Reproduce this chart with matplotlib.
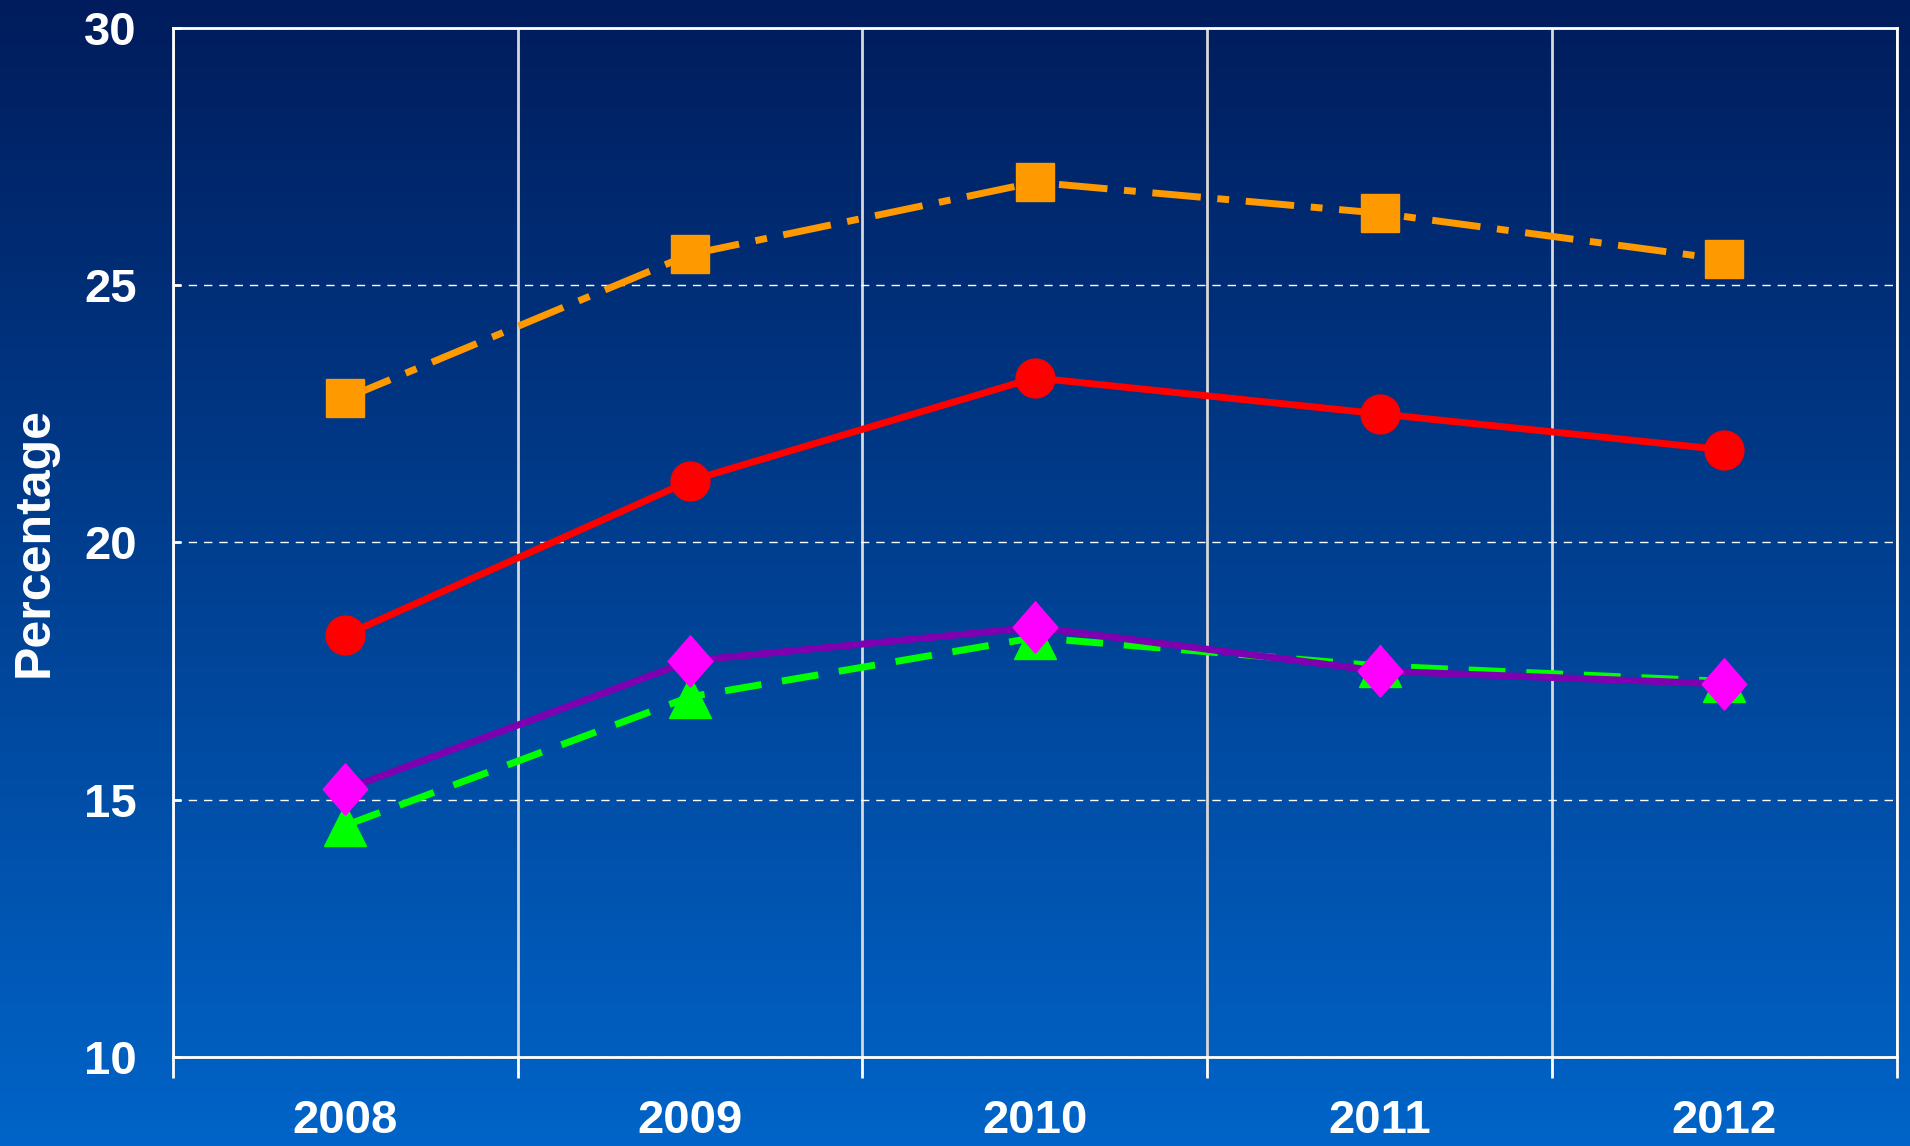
import matplotlib.pyplot as plt
import matplotlib as mpl
import numpy as np

years = ['2008', '2009', '2010', '2011', '2012']
orange_vals = [22.8, 25.6, 27.0, 26.4, 25.5]
red_vals = [18.2, 21.2, 23.2, 22.5, 21.8]
green_vals = [14.5, 17.0, 18.15, 17.6, 17.3]
magenta_vals = [15.2, 17.7, 18.35, 17.5, 17.25]

fig = plt.figure(figsize=(19.1, 11.46), dpi=100)

# background gradient, dark navy on top to blue at bottom
bg = fig.add_axes([0, 0, 1, 1], zorder=-10)
top = np.array([0, 28, 92]) / 255.0
bot = np.array([0, 100, 200]) / 255.0
t = np.linspace(0, 1, 256)[:, None]
grad = top + (bot - top) * t
bg.imshow(grad[:, None, :], aspect='auto', extent=[0, 1, 0, 1])
bg.axis('off')

ax = fig.add_axes([0.0906, 0.0777, 0.9024, 0.8979])
ax.patch.set_alpha(0)

x = np.arange(len(years))
diamond = [(0, -1.15), (1, 0), (0, 1.15), (-1, 0), (0, -1.15)]

ax.plot(x, orange_vals, color='#FF9900', lw=5, dashes=(7, 2.4, 1.7, 2.4),
        dash_capstyle='butt', marker='s', ms=27, zorder=5)
ax.plot(x, red_vals, color='#FF0000', lw=5, marker='o', ms=28, zorder=5)
ax.plot(x, green_vals, color='#00FF00', lw=5, dashes=(5.3, 3),
        dash_capstyle='butt', marker='^', ms=30, zorder=5)
ax.plot(x, magenta_vals, color='#7F00B0', lw=5, zorder=6)
ax.plot(x, magenta_vals, ls='none', color='#FF00FF', marker=diamond,
        ms=37, zorder=7)

ax.set_xlim(-0.5, 4.5)
ax.set_ylim(10, 30)
ax.set_yticks([10, 15, 20, 25, 30])
ax.set_xticks(x)
ax.set_xticklabels(years)
ax.set_xticks(np.arange(-0.5, 5, 1), minor=True)

for s in ax.spines.values():
    s.set_color('white')
    s.set_linewidth(2)

ax.tick_params(axis='x', which='major', length=0, pad=30)
ax.tick_params(axis='x', which='minor', length=15, width=2, color='white',
               direction='out')
ax.tick_params(axis='y', length=6, width=2, color='white', direction='in',
               pad=26)
for lab in ax.get_xticklabels() + ax.get_yticklabels():
    lab.set_color('white')
    lab.set_fontweight('bold')
    lab.set_fontsize(34)
    lab.set_family('Liberation Sans')

ax.grid(axis='x', which='minor', color='#D8D8D8', lw=2)
ax.grid(axis='y', which='major', color='white', lw=1, ls=(0, (6, 5)))
ax.set_axisbelow(True)

ax.set_ylabel('Percentage', color='white', fontsize=36, fontweight='bold',
              family='Liberation Sans')
ax.yaxis.set_label_coords(-0.0806, 0.5)
ax.yaxis.label.set_va('center')

plt.savefig('out.png', dpi=100)
